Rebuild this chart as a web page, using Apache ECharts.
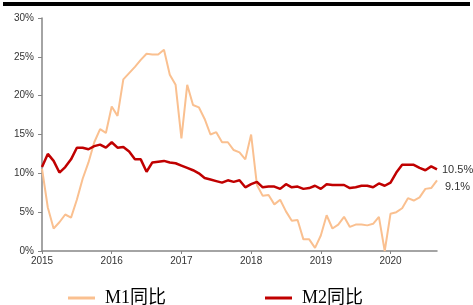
<!DOCTYPE html>
<html>
<head>
<meta charset="utf-8">
<script src="https://cdn.jsdelivr.net/npm/echarts@6/dist/echarts.min.js"></script>
<style>
  html, body { margin: 0; padding: 0; background: #fff; }
  #chart { width: 473px; height: 305px; }
</style>
</head>
<body>
<div id="chart"></div>
<script>
// 月份（源数据缺 2018-10）
const months = [
  '2015-01', '2015-02', '2015-03', '2015-04', '2015-05', '2015-06', '2015-07', '2015-08', '2015-09', '2015-10', '2015-11', '2015-12',
  '2016-01', '2016-02', '2016-03', '2016-04', '2016-05', '2016-06', '2016-07', '2016-08', '2016-09', '2016-10', '2016-11', '2016-12',
  '2017-01', '2017-02', '2017-03', '2017-04', '2017-05', '2017-06', '2017-07', '2017-08', '2017-09', '2017-10', '2017-11', '2017-12',
  '2018-01', '2018-02', '2018-03', '2018-04', '2018-05', '2018-06', '2018-07', '2018-08', '2018-09', '2018-11', '2018-12',
  '2019-01', '2019-02', '2019-03', '2019-04', '2019-05', '2019-06', '2019-07', '2019-08', '2019-09', '2019-10', '2019-11', '2019-12',
  '2020-01', '2020-02', '2020-03', '2020-04', '2020-05', '2020-06', '2020-07', '2020-08', '2020-09', '2020-10'
]
const m1 = [
  10.6, 5.6, 2.9, 3.7, 4.7, 4.3, 6.6, 9.3, 11.4, 14.0, 15.7, 15.2,
  18.6, 17.4, 22.1, 22.9, 23.7, 24.6, 25.4, 25.3, 25.3, 25.9, 22.7, 21.4,
  14.5, 21.4, 18.8, 18.5, 17.0, 15.0, 15.3, 14.0, 14.0, 13.0, 12.7, 11.8,
  15.0, 8.5, 7.1, 7.2, 6.0, 6.6, 5.1, 3.9, 4.0, 1.5, 1.5,
  0.4, 2.0, 4.6, 2.9, 3.4, 4.4, 3.1, 3.4, 3.4, 3.3, 3.5, 4.4,
  0.0, 4.8, 5.0, 5.5, 6.8, 6.5, 6.9, 8.0, 8.1, 9.1
]
const m2 = [
  10.8, 12.5, 11.6, 10.1, 10.8, 11.8, 13.3, 13.3, 13.1, 13.5, 13.7, 13.3,
  14.0, 13.3, 13.4, 12.8, 11.8, 11.8, 10.2, 11.4, 11.5, 11.6, 11.4, 11.3,
  11.0, 10.7, 10.4, 10.0, 9.4, 9.2, 9.0, 8.8, 9.1, 8.9, 9.1, 8.2,
  8.6, 8.9, 8.2, 8.3, 8.3, 8.0, 8.6, 8.2, 8.3, 8.0, 8.1,
  8.4, 8.0, 8.6, 8.5, 8.5, 8.5, 8.1, 8.2, 8.4, 8.4, 8.2, 8.7,
  8.4, 8.8, 10.1, 11.1, 11.1, 11.1, 10.7, 10.4, 10.9, 10.5
]
const seriesNames = ['M1同比', 'M2同比']

const myChart = echarts.init(document.getElementById('chart'))
const axisColor = '#868686'
const option = {
  animation: false,
  textStyle: {
    fontFamily: 'Liberation Sans, Arial, sans-serif'
  },
  graphic: [
    {
      type: 'rect',
      shape: { x: 3, y: 2, width: 467, height: 4 },
      style: { fill: '#000' }
    }
  ],
  grid: {
    top: 18,
    left: 42,
    right: 36,
    bottom: 54
  },
  legend: [
    {
      data: [seriesNames[0]],
      left: 63,
      top: 284,
      icon: 'rect',
      itemWidth: 27,
      itemHeight: 3,
      textStyle: {
        fontFamily: 'Liberation Serif, Noto Sans CJK SC, serif',
        fontSize: 18,
        color: '#000',
        padding: [0, 0, 0, 5]
      }
    },
    {
      data: [seriesNames[1]],
      left: 260,
      top: 284,
      icon: 'rect',
      itemWidth: 27,
      itemHeight: 3,
      textStyle: {
        fontFamily: 'Liberation Serif, Noto Sans CJK SC, serif',
        fontSize: 18,
        color: '#000',
        padding: [0, 0, 0, 5]
      }
    }
  ],
  xAxis: {
    type: 'category',
    boundaryGap: false,
    data: months,
    axisLine: {
      show: true,
      lineStyle: { color: axisColor, width: 1.5 }
    },
    axisTick: {
      show: true,
      interval: 11,
      length: 3,
      lineStyle: { color: axisColor }
    },
    axisLabel: {
      interval: 11,
      margin: 5,
      color: '#333',
      fontSize: 10,
      formatter: function(v) {
        return v.slice(0, 4)
      }
    },
    splitLine: { show: false }
  },
  yAxis: {
    type: 'value',
    min: 0,
    max: 30,
    interval: 5,
    axisLine: {
      show: true,
      lineStyle: { color: axisColor, width: 1.5 }
    },
    axisTick: {
      show: true,
      length: 4,
      lineStyle: { color: axisColor }
    },
    axisLabel: {
      margin: 8,
      color: '#333',
      fontSize: 10,
      formatter: '{value}%'
    },
    splitLine: { show: false }
  },
  series: [
    {
      name: seriesNames[0],
      type: 'line',
      data: m1,
      symbol: 'none',
      itemStyle: { color: '#FAC090' },
      lineStyle: { color: '#FAC090', width: 2 },
      endLabel: {
        show: true,
        distance: 8,
        offset: [0, 7],
        color: '#333',
        fontSize: 11,
        formatter: function(p) {
          return p.value.toFixed(1) + '%'
        }
      },
      z: 2
    },
    {
      name: seriesNames[1],
      type: 'line',
      data: m2,
      symbol: 'none',
      itemStyle: { color: '#C00000' },
      lineStyle: { color: '#C00000', width: 2.5 },
      endLabel: {
        show: true,
        distance: 5,
        offset: [0, 1],
        color: '#333',
        fontSize: 11,
        formatter: function(p) {
          return p.value.toFixed(1) + '%'
        }
      },
      z: 3
    }
  ]
}
myChart.setOption(option)
</script>
</body>
</html>
